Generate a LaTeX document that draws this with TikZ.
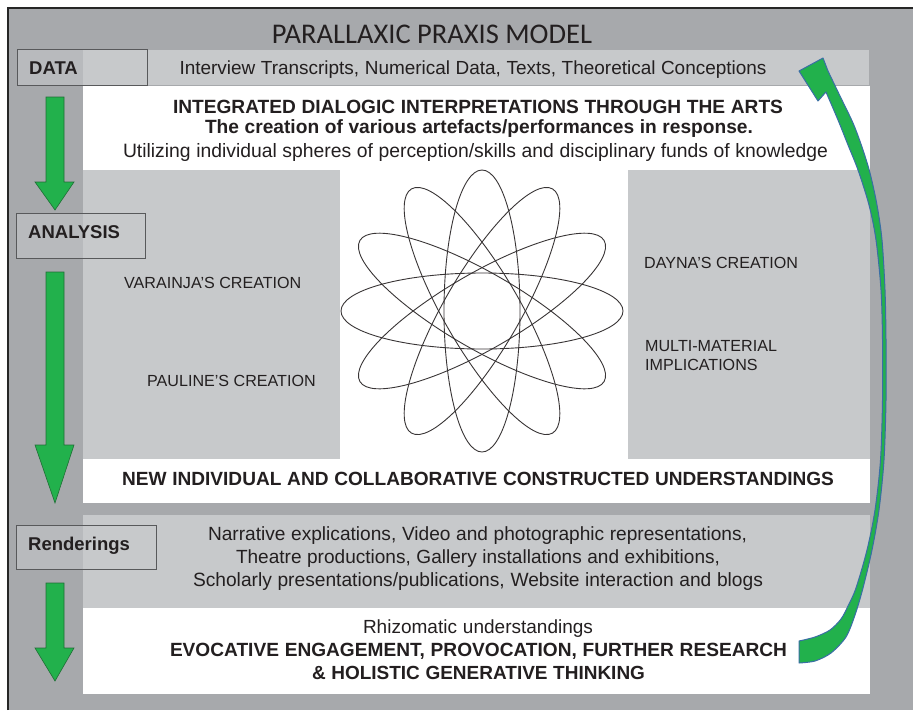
\documentclass[tikz,border=0pt]{standalone}
\usepackage{fontspec}
\setmainfont{Liberation Sans}
\newfontfamily\titlefont{Carlito}
\usetikzlibrary{calc}

\definecolor{framegray}{HTML}{A7A9AC}
\definecolor{panelgray}{HTML}{C7C9CB}
\definecolor{ink}{HTML}{231F20}
\definecolor{arrowgreen}{HTML}{22B14C}
\definecolor{arrowedge}{HTML}{1F6E35}
\definecolor{curveedge}{HTML}{3A6EA5}
\definecolor{labeledge}{HTML}{58595B}

% Set a line at the size that fills the given width (in pt),
% letting the interword spaces take up any small remainder.
\newlength\fitlen
\newcommand\fitline[3]{%
  \settowidth\fitlen{\fontsize{10pt}{12pt}\selectfont#1#3}%
  \pgfmathsetmacro\fitsize{9.97*#2/\fitlen}%
  \makebox[#2pt][s]{\fontsize{\fitsize pt}{\fitsize pt}\selectfont#1#3}}

\tikzset{
  textline/.style={anchor=base, inner sep=0pt, text=ink},
  paneltext/.style={anchor=base west, inner sep=0pt, text=ink,
    font=\fontsize{16.1pt}{19pt}\selectfont},
  stagetext/.style={anchor=base west, inner sep=0pt, text=ink,
    font=\bfseries\fontsize{18.5pt}{20pt}\selectfont},
  stagebox/.style={draw=labeledge, fill=panelgray, fill opacity=0.55,
    line width=0.8pt},
  flowarrow/.style={fill=arrowgreen, draw=arrowedge, line width=0.6pt},
  returnarrow/.style={fill=arrowgreen, draw=curveedge, line width=1pt,
    line join=round},
  petal/.style={draw=ink!90, line width=0.9pt},
}

\begin{document}
\begin{tikzpicture}[x=1pt, y=-1pt]
\useasboundingbox (0,0) rectangle (913,710);
\fill[white] (0,0) rectangle (913,710);

% frame
\fill[framegray] (8,8) rectangle (913,710);
\draw[black!85, line width=1.6pt] (8,710) -- (8,8) -- (913,8);

% title
\node[textline, font=\titlefont\fontsize{28.5pt}{30pt}\selectfont] (title)
  at (432,43.5) {PARALLAXIC PRAXIS MODEL};

% bands and panels
\fill[panelgray] (83,50) rectangle (869,85);
\fill[white] (83,86) rectangle (870,503);
\fill[panelgray] (83,170) rectangle (340,459);
\fill[panelgray] (628,170) rectangle (870,459);
\fill[panelgray] (83,515) rectangle (870,608);
\fill[white] (83,608) rectangle (870,694);

% flower of six ellipses
\foreach \a in {0,30,...,150}
  \draw[petal, rotate around={\a:(482,311)}] (482,311) ellipse [x radius=141pt, y radius=38pt];

% data band
\node[textline] (sources) at (473,74)
  {\fitline{}{587}{Interview Transcripts, Numerical Data, Texts, Theoretical Conceptions}};

% interpretation block
\node[textline] (integrated) at (478,113)
  {\fitline{\bfseries}{610}{INTEGRATED DIALOGIC INTERPRETATIONS THROUGH THE ARTS}};
\node[textline] (artefacts) at (479,133)
  {\fitline{\bfseries}{548}{The creation of various artefacts/performances in response.}};
\node[textline] (spheres) at (475.5,157)
  {\fitline{}{705}{Utilizing individual spheres of perception/skills and disciplinary funds of knowledge}};

% creations
\node[paneltext] (varainja) at (124,288) {VARAINJA'S CREATION};
\node[paneltext] (pauline) at (147,386) {PAULINE'S CREATION};
\node[paneltext] (dayna) at (644,268) {DAYNA'S CREATION};
\node[paneltext] (multi) at (645,351) {MULTI-MATERIAL};
\node[paneltext] (implic) at (645,370) {IMPLICATIONS};

\node[textline] (understandings) at (478,485)
  {\fitline{\bfseries}{712}{NEW INDIVIDUAL AND COLLABORATIVE CONSTRUCTED UNDERSTANDINGS}};

% renderings band
\node[textline] (narrative) at (477.5,540)
  {\fitline{}{539}{Narrative explications, Video and photographic representations,}};
\node[textline] (theatre) at (478,563)
  {\fitline{}{484}{Theatre productions, Gallery installations and exhibitions,}};
\node[textline] (scholarly) at (478,586)
  {\fitline{}{570}{Scholarly presentations/publications, Website interaction and blogs}};

% closing block
\node[textline] (rhizo) at (478,633)
  {\fitline{}{230}{Rhizomatic understandings}};
\node[textline] (evocative) at (478.5,656)
  {\fitline{\bfseries}{617}{EVOCATIVE ENGAGEMENT, PROVOCATION, FURTHER RESEARCH}};
\node[textline] (holistic) at (478.5,679)
  {\fitline{\bfseries}{333}{\& HOLISTIC GENERATIVE THINKING}};

% stage labels
\draw[stagebox] (17,49) rectangle (147,85);
\node[stagetext] (data) at (29,74) {DATA};
\draw[stagebox] (16,213) rectangle (145,258);
\node[stagetext] (analysis) at (28,238) {ANALYSIS};
\draw[stagebox] (16,525) rectangle (156,569);
\node[stagetext] (renderings) at (28,550) {Renderings};

% downward flow arrows
\foreach \t/\b/\p in {97/182/210, 272/445/503, 583/648/681}
  \draw[flowarrow] (46,\t) -- (64,\t) -- (64,\b) -- (74,\b) -- (55,\p)
    -- (35,\b) -- (46,\b) -- cycle;

% return arrow from the closing block back up to the data band
\filldraw[returnarrow]
  plot[smooth, tension=0.5] coordinates {
    (799,641) (815,637) (830,630) (841,619) (848,606) (856,588) (867,550)
    (875,510) (880.5,460) (882.5,400) (882.5,340) (881,290) (876,240)
    (869,205) (858,170) (848,145) (838,120) (826,92)}
  -- (818,101) -- (799,71) -- (823,58)
  -- plot[smooth, tension=0.5] coordinates {
    (828,71) (840,96) (853,123) (862,147) (870,173) (877,205) (882,240)
    (885,290) (886,340) (886,400) (884,460) (879,510) (872,550) (863,588)
    (855,615) (846,637) (831,653) (815,661) (799,663)}
  -- cycle;
\end{tikzpicture}
\end{document}
